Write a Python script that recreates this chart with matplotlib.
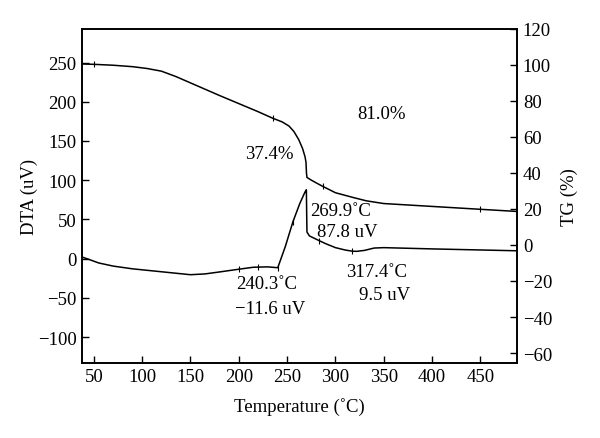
import matplotlib.pyplot as plt

plt.rcParams['font.family'] = ['Liberation Serif', 'DejaVu Serif']
plt.rcParams['font.size'] = 13.5

# DTA curve (left axis, uV)
temp_dta = [38, 45, 55, 70, 90, 110, 130, 150, 165, 180, 200, 215, 230, 240.3,
            248, 256, 263, 268.5, 269.9, 270.2, 270.5, 273, 278, 283, 290, 300,
            310, 317.4, 322, 330, 340, 350, 400, 488]
dta = [2, -1, -5.5, -9.5, -13, -15.5, -18, -20.5, -19.5, -17, -13.5, -11, -10.5, -11.6,
       15, 47, 70, 85, 87.8, 60, 34, 29, 26, 23, 19, 14,
       11, 9.5, 9.3, 10.5, 13.5, 14, 12.4, 10]
dta_marks_t = [200, 220, 240.3, 256, 283, 317.4]
dta_marks_v = [-13.5, -10.8, -11.6, 47, 23, 9.5]

# TG curve (right axis, %)
temp_tg = [38, 50, 70, 90, 105, 120, 135, 150, 165, 180, 200, 220, 235, 245, 252,
           257, 262, 266, 268.5, 269.5, 270, 270.5, 275, 280, 287, 300, 318, 332,
           350, 400, 450, 488]
tg = [100.5, 100.3, 99.8, 99, 98, 96.5, 93.5, 90, 86.5, 83, 78.5, 74, 70.4, 68.3, 66,
      63, 58.5, 53.5, 49, 46, 40, 37.5, 36, 34.5, 32.5, 29, 26.4, 24.5,
      23, 21.4, 19.8, 18.6]
tg_marks_t = [50, 235, 287, 450]
tg_marks_v = [100.3, 70.4, 32.5, 19.8]

fig, ax = plt.subplots(figsize=(6, 4.39), dpi=100)
fig.subplots_adjust(left=0.137, right=0.862, top=0.932, bottom=0.171)
ax2 = ax.twinx()

ax.plot(temp_dta, dta, color='black', lw=1.1)
ax.plot(dta_marks_t, dta_marks_v, ls='none', marker='|', ms=5, color='black', mew=0.8)
ax2.plot(temp_tg, tg, color='black', lw=1.1)
ax2.plot(tg_marks_t, tg_marks_v, ls='none', marker='|', ms=5, color='black', mew=0.8)

ax.set_xlim(38, 488)
ax.set_ylim(-133, 293)
ax2.set_ylim(-65.5, 120)
ax.set_xticks([50, 100, 150, 200, 250, 300, 350, 400, 450])
ax.set_yticks([-100, -50, 0, 50, 100, 150, 200, 250])
ax2.set_yticks([-60, -40, -20, 0, 20, 40, 60, 80, 100, 120])
ax2.set_yticklabels(['\u221260', '\u221240', '\u221220', '0', '20', '40', '60', '80', '100', '120'])
ax.set_yticklabels(['\u2212100', '\u221250', '0', '50', '100', '150', '200', '250'])

ax.tick_params(direction='in', length=5, width=1, top=False, pad=4)
ax2.tick_params(direction='in', length=5, width=1, pad=4)
for t in ax2.yaxis.get_major_ticks():
    if t.get_loc() in (20, 120):
        t.tick2line.set_color('#2233aa')

for a in (ax, ax2):
    for s in a.spines.values():
        s.set_linewidth(1.2)

ax.set_xlabel('Temperature (\u02daC)', labelpad=8)
ax.set_ylabel('DTA (uV)', labelpad=0)
ax2.set_ylabel('TG (%)', labelpad=6)

ax.text(232, 134, '37.4%', ha='center', va='center')
ax.text(348, 185, '81.0%', ha='center', va='center')
ax.text(305, 61, '269.9\u02daC', ha='center', va='center')
ax.text(312, 34, '87.8 uV', ha='center', va='center')
ax.text(229, -32, '240.3\u02daC', ha='center', va='center')
ax.text(232, -64, '\u221211.6 uV', ha='center', va='center')
ax.text(343, -16, '317.4\u02daC', ha='center', va='center')
ax.text(351, -46, '9.5 uV', ha='center', va='center')

fig.savefig('out.png', dpi=100)
